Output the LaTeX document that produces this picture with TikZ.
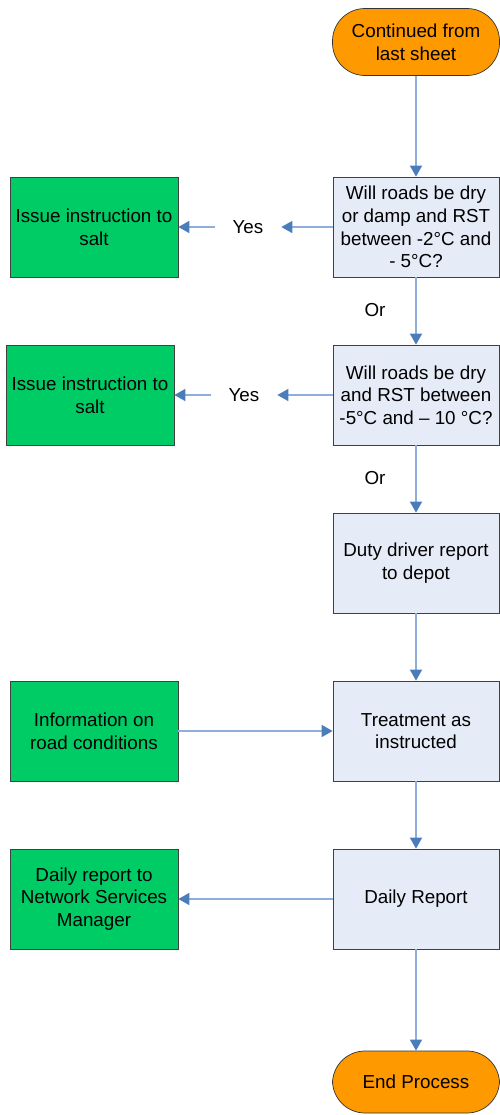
\documentclass[tikz,border=0pt]{standalone}
\usepackage{fontspec}
\setmainfont{Liberation Sans}
\usetikzlibrary{arrows.meta}

\definecolor{termorange}{HTML}{FF9900}
\definecolor{stepgreen}{HTML}{00CC66}
\definecolor{stepgrey}{HTML}{E6ECF7}
\definecolor{linkblue}{HTML}{8FAEDC}
\definecolor{tipblue}{HTML}{4A7EBB}

\tikzset{
    terminal/.style={draw=black!80, fill=termorange, rounded corners=0.65cm,
        minimum width=3.34cm, minimum height=1.34cm, align=center, inner sep=0pt},
    action/.style={draw=black!75, fill=stepgrey, minimum width=3.32cm,
        minimum height=2cm, align=center, inner sep=0pt},
    outcome/.style={draw=black!75, fill=stepgreen, minimum width=3.36cm,
        minimum height=2cm, align=center, inner sep=0pt},
    label/.style={inner sep=0pt, minimum width=1.32cm},
    link/.style={draw=linkblue, line width=0.9pt,
        -{Triangle[length=0.22cm, width=0.24cm, fill=tipblue, color=tipblue]}}
}

\begin{document}
\begin{tikzpicture}[font=\fontsize{10.7}{12.9}\selectfont]
    \useasboundingbox (0,0) rectangle (10,-22.3);

    \node[terminal] (start) at (8.32,-0.84) {Continued from\\last sheet};

    \node[action] (dampcheck) at (8.32,-4.54) {Will roads be dry\\or damp and RST\\between -2°C and\\- 5°C?};
    \node[outcome] (salt1) at (1.88,-4.54) {Issue instruction to\\salt};
    \node[label] (yes1) at (4.96,-4.54) {Yes};

    \node[action] (drycheck) at (8.32,-7.9) {Will roads be dry\\and RST between\\-5°C and – 10 °C?};
    \node[outcome] (salt2) at (1.8,-7.9) {Issue instruction to\\salt};
    \node[label] (yes2) at (4.88,-7.9) {Yes};

    \node (or1) at (7.5,-6.2) {Or};
    \node (or2) at (7.5,-9.56) {Or};

    \node[action] (driver) at (8.32,-11.26) {Duty driver report\\to depot};

    \node[action] (treat) at (8.32,-14.62) {Treatment as\\instructed};
    \node[outcome] (info) at (1.88,-14.62) {Information on\\road conditions};

    \node[action] (daily) at (8.32,-17.98) {Daily Report};
    \node[outcome] (nsm) at (1.88,-17.98) {Daily report to\\Network Services\\Manager};

    \node[terminal, minimum height=1.24cm] (finish) at (8.32,-21.64) {End Process};

    % main line down the right side
    \draw[link] (start) -- (dampcheck);
    \draw[link] (dampcheck) -- (drycheck);
    \draw[link] (drycheck) -- (driver);
    \draw[link] (driver) -- (treat);
    \draw[link] (treat) -- (daily);
    \draw[link] (daily) -- (finish);

    % side branches
    \draw[link] (dampcheck) -- (yes1);
    \draw[link] (yes1) -- (salt1);
    \draw[link] (drycheck) -- (yes2);
    \draw[link] (yes2) -- (salt2);
    \draw[link] (info) -- (treat);
    \draw[link] (daily) -- (nsm);

\end{tikzpicture}
\end{document}
